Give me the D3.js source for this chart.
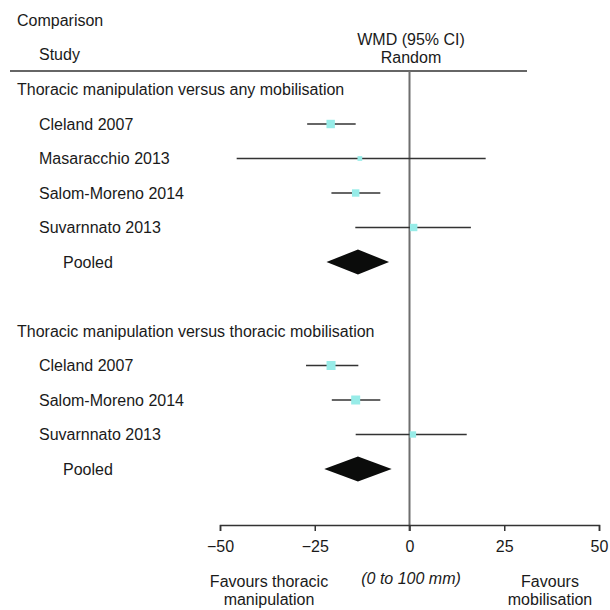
<!DOCTYPE html>
<html>
<head>
<meta charset="utf-8">
<script src="https://cdn.jsdelivr.net/npm/d3@7"></script>
<style>
  html, body { margin: 0; padding: 0; background: #fff; }
  svg text { font-family: "Liberation Sans", Arial, sans-serif; fill: #1a1a1a; }
</style>
</head>
<body>
<div id="chart"></div>
<script>
// rows of the forest plot, top to bottom
const rowLabels = [
  'Thoracic manipulation versus any mobilisation',
  'Cleland 2007', 'Masaracchio 2013', 'Salom-Moreno 2014', 'Suvarnnato 2013', 'Pooled',
  '',
  'Thoracic manipulation versus thoracic mobilisation',
  'Cleland 2007', 'Salom-Moreno 2014', 'Suvarnnato 2013', 'Pooled'
];
const rowKinds = ['group', 'study', 'study', 'study', 'study', 'pooled', 'blank',
  'group', 'study', 'study', 'study', 'pooled'];

// WMD estimates with 95% CI (mm on 0-100 scale)
const wmd   = [null, -20.8, -13.1, -14.2, 1.1, -13.6, null, null, -20.7, -14.2, 0.9, -13.6];
const lower = [null, -27.0, -45.6, -20.6, -14.3, -21.9, null, null, -27.3, -20.5, -14.2, -22.5];
const upper = [null, -14.2, 20.1, -7.7, 16.2, -5.4, null, null, -13.5, -7.7, 15.1, -4.7];
const weight = [null, 35, 11, 27, 27, null, null, null, 40, 40, 20, null];

const xTicks = [-50, -25, 0, 25, 50];

const width = 610, height = 610;
const fs = 16;

const svg = d3.select('#chart')
  .append('svg')
  .attr('width', width)
  .attr('height', height);

const x = d3.scaleLinear().domain([-50, 50]).range([220, 599]);
const y = d3.scalePoint().domain(d3.range(rowLabels.length)).range([89.5, 469]);
const size = d3.scaleSqrt().domain([0, 40]).range([0, 9]);

const rows = rowLabels.map((label, i) => ({
  label, kind: rowKinds[i], est: wmd[i], lo: lower[i], hi: upper[i], w: weight[i], i
}));

// header
svg.append('text').attr('x', 17).attr('y', 26).attr('font-size', fs).text('Comparison');
svg.append('text').attr('x', 39).attr('y', 60).attr('font-size', fs).text('Study');
svg.append('text').attr('x', 411).attr('y', 45).attr('font-size', fs)
  .attr('text-anchor', 'middle').text('WMD (95% CI)');
svg.append('text').attr('x', 411).attr('y', 63).attr('font-size', fs)
  .attr('text-anchor', 'middle').text('Random');

svg.append('line')
  .attr('x1', 10).attr('x2', 527).attr('y1', 71).attr('y2', 71)
  .attr('stroke', '#333').attr('stroke-width', 1.5);

// no-effect line
svg.append('line')
  .attr('x1', x(0)).attr('x2', x(0)).attr('y1', 71).attr('y2', 531)
  .attr('stroke', '#6e6e6e').attr('stroke-width', 2);

// row labels
svg.append('g')
  .selectAll('text')
  .data(rows.filter(d => d.kind !== 'blank'))
  .join('text')
  .attr('x', d => d.kind === 'group' ? 17 : d.kind === 'pooled' ? 63 : 39)
  .attr('y', d => y(d.i) + 5.5)
  .attr('font-size', fs)
  .text(d => d.label);

const studies = rows.filter(d => d.kind === 'study');

// confidence intervals
svg.append('g')
  .selectAll('line')
  .data(studies)
  .join('line')
  .attr('x1', d => x(d.lo))
  .attr('x2', d => x(d.hi))
  .attr('y1', d => y(d.i))
  .attr('y2', d => y(d.i))
  .attr('stroke', '#333')
  .attr('stroke-width', 1.5);

// weight boxes
svg.append('g')
  .selectAll('rect')
  .data(studies)
  .join('rect')
  .attr('x', d => x(d.est) - size(d.w) / 2)
  .attr('y', d => y(d.i) - size(d.w) / 2)
  .attr('width', d => size(d.w))
  .attr('height', d => size(d.w))
  .attr('fill', '#97ece8');

// pooled diamonds
svg.append('g')
  .selectAll('path')
  .data(rows.filter(d => d.kind === 'pooled'))
  .join('path')
  .attr('d', d => {
    const cy = y(d.i);
    return `M${x(d.lo)},${cy}L${x(d.est)},${cy - 12.5}L${x(d.hi)},${cy}L${x(d.est)},${cy + 12.5}Z`;
  })
  .attr('fill', '#0b0c0b');

// axis
const axis = svg.append('g')
  .attr('transform', 'translate(0,525)')
  .call(d3.axisBottom(x).tickValues(xTicks).tickSize(6).tickPadding(10)
    .tickFormat(d => d < 0 ? '\u2212' + Math.abs(d) : String(d)));
axis.select('.domain').attr('stroke', '#333').attr('stroke-width', 1.5);
axis.selectAll('.tick line').attr('stroke', '#333').attr('stroke-width', 1.5);
axis.selectAll('.tick text')
  .attr('font-size', fs)
  .attr('font-family', '"Liberation Sans", Arial, sans-serif')
  .attr('fill', '#1a1a1a');

// footer labels
const foot = svg.append('g').attr('font-size', fs).attr('text-anchor', 'middle');
foot.append('text').attr('x', 269).attr('y', 587).text('Favours thoracic');
foot.append('text').attr('x', 269).attr('y', 605).text('manipulation');
foot.append('text').attr('x', 411).attr('y', 584).attr('font-style', 'italic').text('(0 to 100 mm)');
foot.append('text').attr('x', 550).attr('y', 587).text('Favours');
foot.append('text').attr('x', 550).attr('y', 605).text('mobilisation');
</script>
</body>
</html>
